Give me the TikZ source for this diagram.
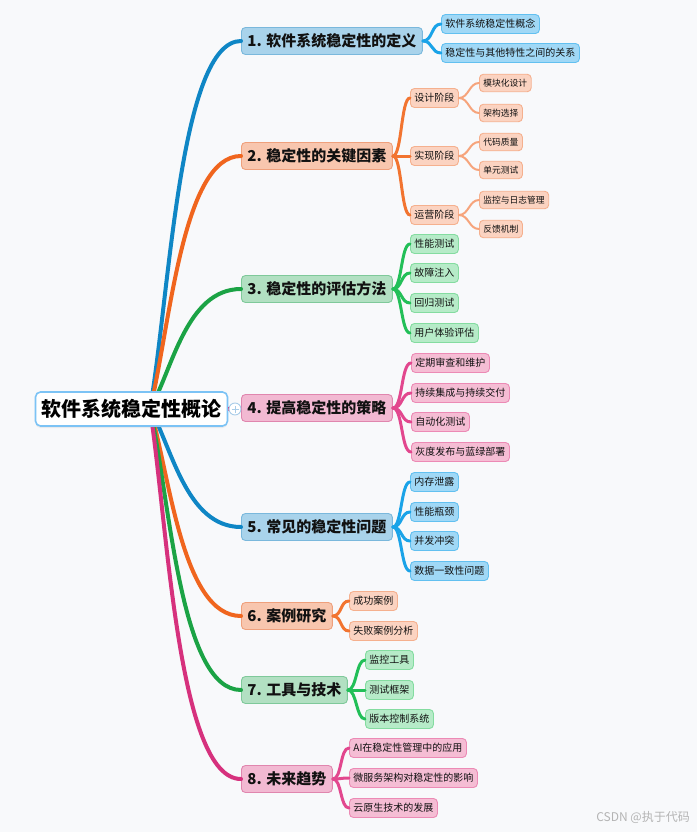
\documentclass[tikz,border=0pt]{standalone}
\usepackage{fontspec}
\setmainfont{Noto Sans CJK SC}
\usetikzlibrary{shadows}
\definecolor{bg}{HTML}{F8F9FB}
\definecolor{bL}{HTML}{0F86C5}\definecolor{bS}{HTML}{1AA3E8}
\definecolor{bFa}{HTML}{A9D3EB}\definecolor{bDa}{HTML}{7AB8DC}
\definecolor{bFb}{HTML}{A0D8F6}\definecolor{bDb}{HTML}{62C0F0}
\definecolor{oL}{HTML}{F0651E}\definecolor{oS}{HTML}{F27430}\definecolor{oT}{HTML}{F6A47C}
\definecolor{oFa}{HTML}{F8C6AE}\definecolor{oDa}{HTML}{EFA07C}
\definecolor{oFb}{HTML}{FBD3C1}\definecolor{oDb}{HTML}{F5B08E}
\definecolor{gL}{HTML}{1BA345}\definecolor{gS}{HTML}{22BF58}
\definecolor{gFa}{HTML}{B2E0C2}\definecolor{gDa}{HTML}{7FC99A}
\definecolor{gFb}{HTML}{B6EBC8}\definecolor{gDb}{HTML}{84DCA0}
\definecolor{pL}{HTML}{D6317D}\definecolor{pS}{HTML}{E2478E}
\definecolor{pFa}{HTML}{F2B9D2}\definecolor{pDa}{HTML}{E086AE}
\definecolor{pFb}{HTML}{F5BDD4}\definecolor{pDb}{HTML}{EC8AB5}
\definecolor{rB}{HTML}{7CC3F5}\definecolor{plusC}{HTML}{A9CCE8}
\definecolor{ink}{HTML}{111111}\definecolor{wm}{HTML}{B4B4B4}
\begin{document}
\begin{tikzpicture}[x=1pt,y=-1pt,
  mainline/.style={line width=4pt,line cap=round},
  subline/.style={line width=3pt,line cap=round},
  thinline/.style={line width=2pt,line cap=round},
  rootbox/.style={rectangle,rounded corners=5pt,fill=white,draw=rB,line width=1.6pt,
    font=\fontsize{20}{20}\selectfont\bfseries,minimum height=34pt,inner xsep=6pt,inner ysep=0pt,text=black,
    drop shadow={opacity=0.12,shadow xshift=0pt,shadow yshift=-2pt}},
  lone/.style 2 args={rectangle,rounded corners=4pt,fill=#1,draw=#2,line width=0.9pt,
    font=\fontsize{15}{15}\selectfont\bfseries,minimum height=27pt,inner xsep=6pt,inner ysep=0pt,anchor=west,text=ink},
  ltwo/.style 2 args={rectangle,rounded corners=4pt,fill=#1,draw=#2,line width=0.9pt,
    font=\fontsize{10}{10}\selectfont,minimum height=19pt,inner xsep=4pt,inner ysep=0pt,anchor=west,text=ink},
  lthree/.style 2 args={rectangle,rounded corners=4pt,fill=#1,draw=#2,line width=0.9pt,
    font=\fontsize{8.75}{8.75}\selectfont,minimum height=17.5pt,inner xsep=4pt,inner ysep=0pt,anchor=west,text=ink}
]
\fill[bg] (0,0) rectangle (697,832);
\useasboundingbox (0,0) rectangle (697,832);

% level 1 nodes
\node[lone={bFa}{bDa}] (b1) at (241,41) {1. 软件系统稳定性的定义};
\node[lone={oFa}{oDa}] (b2) at (241,156) {2. 稳定性的关键因素};
\node[lone={gFa}{gDa}] (b3) at (241,289) {3. 稳定性的评估方法};
\node[lone={pFa}{pDa}] (b4) at (241,408) {4. 提高稳定性的策略};
\node[lone={bFa}{bDa}] (b5) at (241,527) {5. 常见的稳定性问题};
\node[lone={oFa}{oDa}] (b6) at (241,616) {6. 案例研究};
\node[lone={gFa}{gDa}] (b7) at (241,690) {7. 工具与技术};
\node[lone={pFa}{pDa}] (b8) at (241,779) {8. 未来趋势};

\coordinate (hub) at (150,409);
% main connectors
\draw[mainline,bL] (hub) .. controls (170,291) and (180,41) .. (b1.west);
\draw[mainline,oL] (hub) .. controls (170,328) and (182,156) .. (b2.west);
\draw[mainline,gL] (hub) .. controls (172,371) and (186,289) .. (b3.west);
\draw[mainline,bL] (hub) .. controls (172,447) and (186,527) .. (b5.west);
\draw[mainline,oL] (hub) .. controls (170,475) and (182,616) .. (b6.west);
\draw[mainline,gL] (hub) .. controls (170,499) and (180,690) .. (b7.west);
\draw[mainline,pL] (hub) .. controls (168,527) and (178,779) .. (b8.west);

\node[rootbox] (root) at (131.5,409) {软件系统稳定性概论};
\draw[mainline,pL,line cap=butt] (root.east) -- (b4.west);
\node[circle,draw=plusC,fill=white,line width=0.9pt,minimum size=12pt,inner sep=0pt] (plus) at (235,409) {};
\draw[plusC,line width=0.9pt] ([xshift=-3.5pt]plus.center) -- ([xshift=3.5pt]plus.center);
\draw[plusC,line width=0.9pt] ([yshift=-3.5pt]plus.center) -- ([yshift=3.5pt]plus.center);

% branch 1
\node[ltwo={bFb}{bDb}] (c11) at (441,24) {软件系统稳定性概念};
\node[ltwo={bFb}{bDb}] (c12) at (441,53) {稳定性与其他特性之间的关系};
\foreach \c in {c11,c12}
  \draw[subline,bS] (b1.east) .. controls +(10,0) and +(-10,0) .. (\c.west);

% branch 2
\node[ltwo={oFb}{oDb}] (c21) at (410,98) {设计阶段};
\node[ltwo={oFb}{oDb}] (c22) at (410,156) {实现阶段};
\node[ltwo={oFb}{oDb}] (c23) at (410,215) {运营阶段};
\foreach \c in {c21,c22,c23}
  \draw[subline,oS] (b2.east) .. controls +(9,0) and +(-9,0) .. (\c.west);
\node[lthree={oFb}{oDb}] (d211) at (479,83) {模块化设计};
\node[lthree={oFb}{oDb}] (d212) at (479,113) {架构选择};
\node[lthree={oFb}{oDb}] (d221) at (479,142) {代码质量};
\node[lthree={oFb}{oDb}] (d222) at (479,170) {单元测试};
\node[lthree={oFb}{oDb}] (d231) at (479,200) {监控与日志管理};
\node[lthree={oFb}{oDb}] (d232) at (479,229) {反馈机制};
\foreach \p/\c in {c21/d211,c21/d212,c22/d221,c22/d222,c23/d231,c23/d232}
  \draw[thinline,oT] (\p.east) .. controls +(10,0) and +(-10,0) .. (\c.west);

% branch 3
\node[ltwo={gFb}{gDb}] (c31) at (410,244) {性能测试};
\node[ltwo={gFb}{gDb}] (c32) at (410,273) {故障注入};
\node[ltwo={gFb}{gDb}] (c33) at (410,303) {回归测试};
\node[ltwo={gFb}{gDb}] (c34) at (410,333) {用户体验评估};
\foreach \c in {c31,c32,c33,c34}
  \draw[subline,gS] (b3.east) .. controls +(9,0) and +(-9,0) .. (\c.west);

% branch 4
\node[ltwo={pFb}{pDb}] (c41) at (411,363) {定期审查和维护};
\node[ltwo={pFb}{pDb}] (c42) at (411,393) {持续集成与持续交付};
\node[ltwo={pFb}{pDb}] (c43) at (411,422) {自动化测试};
\node[ltwo={pFb}{pDb}] (c44) at (411,452) {灰度发布与蓝绿部署};
\foreach \c in {c41,c42,c43,c44}
  \draw[subline,pS] (b4.east) .. controls +(10,0) and +(-10,0) .. (\c.west);

% branch 5
\node[ltwo={bFb}{bDb}] (c51) at (410,482) {内存泄露};
\node[ltwo={bFb}{bDb}] (c52) at (410,512) {性能瓶颈};
\node[ltwo={bFb}{bDb}] (c53) at (410,541) {并发冲突};
\node[ltwo={bFb}{bDb}] (c54) at (410,571) {数据一致性问题};
\foreach \c in {c51,c52,c53,c54}
  \draw[subline,bS] (b5.east) .. controls +(9,0) and +(-9,0) .. (\c.west);

% branch 6
\node[ltwo={oFb}{oDb}] (c61) at (349,601) {成功案例};
\node[ltwo={oFb}{oDb}] (c62) at (349,631) {失败案例分析};
\foreach \c in {c61,c62}
  \draw[subline,oS] (b6.east) .. controls +(9,0) and +(-9,0) .. (\c.west);

% branch 7
\node[ltwo={gFb}{gDb}] (c71) at (365,660) {监控工具};
\node[ltwo={gFb}{gDb}] (c72) at (365,690) {测试框架};
\node[ltwo={gFb}{gDb}] (c73) at (365,719) {版本控制系统};
\foreach \c in {c71,c72,c73}
  \draw[subline,gS] (b7.east) .. controls +(9,0) and +(-9,0) .. (\c.west);

% branch 8
\node[ltwo={pFb}{pDb}] (c81) at (349,748) {AI在稳定性管理中的应用};
\node[ltwo={pFb}{pDb}] (c82) at (349,778) {微服务架构对稳定性的影响};
\node[ltwo={pFb}{pDb}] (c83) at (349,808) {云原生技术的发展};
\foreach \c in {c81,c82,c83}
  \draw[subline,pS] (b8.east) .. controls +(9,0) and +(-9,0) .. (\c.west);

% watermark
\node[anchor=east,text=wm,font=\fontsize{12}{12}\selectfont,inner sep=0pt] (wmark) at (690,817) {CSDN @执于代码};
\end{tikzpicture}
\end{document}
